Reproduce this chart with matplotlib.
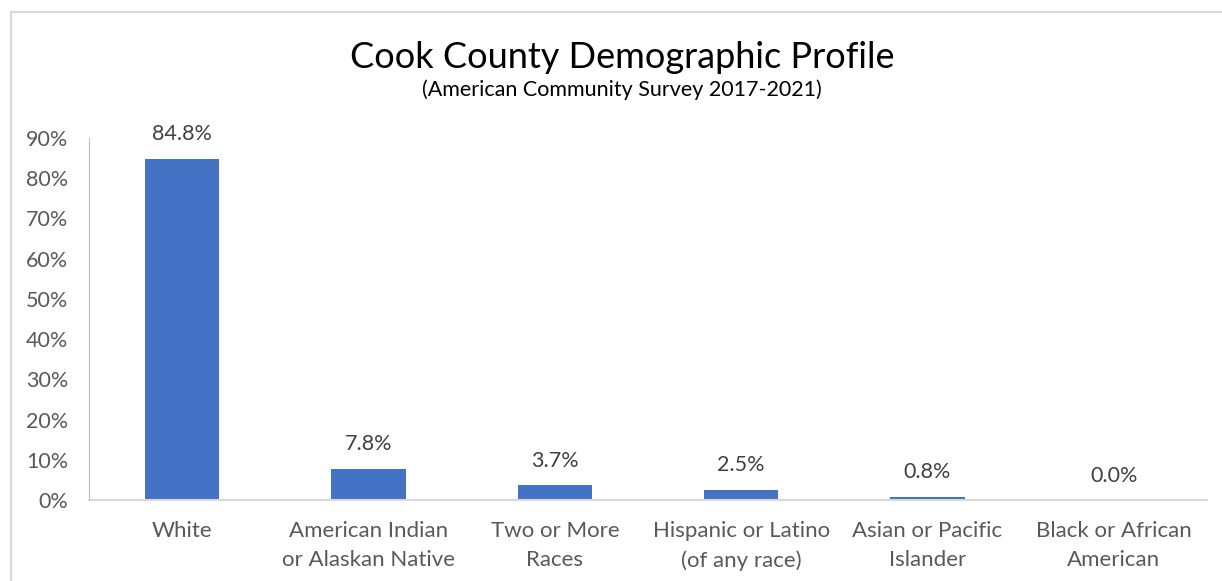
import matplotlib.pyplot as plt
from matplotlib.patches import Rectangle
from matplotlib.ticker import FuncFormatter

categories = ['White', 'American Indian\nor Alaskan Native', 'Two or More\nRaces',
              'Hispanic or Latino\n(of any race)', 'Asian or Pacific\nIslander',
              'Black or African\nAmerican']
shares = [84.8, 7.8, 3.7, 2.5, 0.8, 0.0]

plt.rcParams['font.family'] = ['Lato', 'DejaVu Sans']

gray = '#595959'

fig = plt.figure(figsize=(12.22, 5.81), dpi=100)
ax = fig.add_axes([89 / 1222, 81 / 581, 1118 / 1222, 362 / 581])

# light frame around the whole chart
fig.patches.append(Rectangle((11 / 1222, -0.05), 1.1, 1.05 - 12.5 / 581,
                             transform=fig.transFigure, fill=False,
                             edgecolor='#d9d9d9', linewidth=1.5))

x = range(len(categories))
bars = ax.bar(x, shares, width=0.4, color='#4472c4')

for b, v in zip(bars, shares):
    ax.text(b.get_x() + b.get_width() / 2, v + 3.6, f'{v:.1f}%',
            ha='center', va='bottom', fontsize=15.5, color='#404040')

ax.set_xlim(-0.5, len(categories) - 0.5)
ax.set_ylim(0, 90)
ax.set_yticks(range(0, 91, 10))
ax.yaxis.set_major_formatter(FuncFormatter(lambda v, _: f'{int(v)}%'))
ax.set_xticks(list(x))
ax.set_xticklabels(categories, fontsize=16, color=gray, linespacing=1.55)
ax.tick_params(axis='y', labelsize=15.5, labelcolor=gray, length=0, pad=15)
ax.tick_params(axis='x', length=0, pad=15)

for side in ['top', 'right']:
    ax.spines[side].set_visible(False)
ax.spines['left'].set_color('#bfbfbf')
ax.spines['bottom'].set_color('#d9d9d9')
ax.spines['bottom'].set_linewidth(1.5)

fig.text(0.509, 0.883, 'Cook County Demographic Profile', ha='center',
         va='baseline', fontsize=26, color='black')
fig.text(0.509, 0.834, '(American Community Survey 2017-2021)', ha='center',
         va='baseline', fontsize=15.5, color='black')

fig.savefig('out.png', dpi=100)
